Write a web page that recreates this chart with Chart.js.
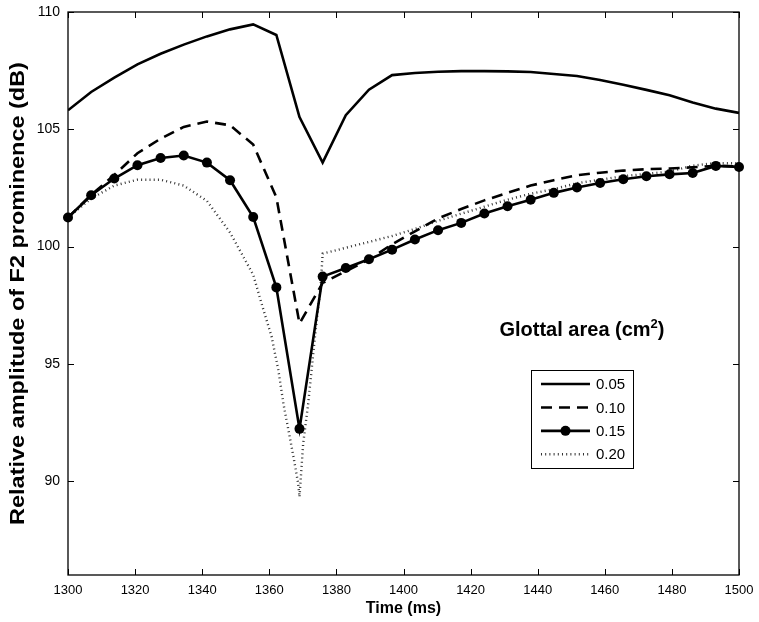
<!DOCTYPE html>
<html><head><meta charset="utf-8">
<script src="https://cdn.jsdelivr.net/npm/chart.js@4"></script>
<style>html,body{margin:0;padding:0;background:#fff}</style>
</head><body>
<canvas id="c" width="759" height="622"></canvas>
<script>
// ---- data ----
const times = [1300,1306.9,1313.8,1320.7,1327.6,1334.5,1341.4,1348.3,1355.2,1362.1,1369.0,1375.9,1382.8,1389.7,1396.6,1403.4,1410.3,1417.2,1424.1,1431.0,1437.9,1444.8,1451.7,1458.6,1465.5,1472.4,1479.3,1486.2,1493.1,1500];
const area005 = [105.81,106.59,107.20,107.77,108.22,108.61,108.96,109.26,109.47,109.02,105.52,103.58,105.60,106.69,107.31,107.40,107.45,107.48,107.48,107.47,107.44,107.36,107.27,107.10,106.90,106.68,106.45,106.14,105.88,105.70];
const area010 = [101.24,102.20,103.05,103.98,104.60,105.10,105.33,105.17,104.35,102.10,96.72,98.45,98.95,99.45,100.10,100.65,101.20,101.60,101.97,102.29,102.60,102.83,103.04,103.15,103.24,103.30,103.33,103.38,103.45,103.42];
const area015 = [101.24,102.19,102.90,103.47,103.78,103.88,103.58,102.83,101.26,98.26,92.23,98.72,99.09,99.46,99.87,100.30,100.70,101.01,101.41,101.72,102.00,102.29,102.52,102.71,102.87,103.00,103.08,103.14,103.44,103.39];
const dotTimes = [1300,1306.9,1313.8,1320.7,1327.6,1334.5,1341.4,1348.3,1355.2,1357.7,1360.7,1362.7,1364.2,1365.7,1367.2,1368.6,1369.0,1370.1,1371.6,1372.6,1373.6,1374.6,1375.3,1375.9,1382.8,1389.7,1396.6,1403.4,1410.3,1417.2,1424.1,1431.0,1437.9,1444.8,1451.7,1458.6,1465.5,1472.4,1479.3,1486.2,1493.1,1500];
const area020 = [101.24,102.05,102.60,102.85,102.85,102.60,101.95,100.60,98.80,97.57,96.15,94.73,93.31,92.18,91.04,89.90,89.33,91.61,93.31,94.73,96.15,97.43,98.30,99.70,99.95,100.20,100.45,100.75,101.10,101.40,101.70,102.00,102.25,102.45,102.70,102.85,103.00,103.10,103.20,103.45,103.56,103.55];
const xTicks = [1300,1320,1340,1360,1380,1400,1420,1440,1460,1480,1500];
const yTicks = [90,95,100,105,110];
const seriesLabels = ['0.05','0.10','0.15','0.20'];
const yTitle = 'Relative amplitude of F2 prominence (dB)';

const pts = (xs, ys) => xs.map((x, i) => ({x, y: ys[i]}));

const frame = {
  id: 'frame',
  afterDatasetsDraw(chart) {
    const {ctx, chartArea: a, scales: {x, y}} = chart;
    ctx.save();
    ctx.strokeStyle = '#000';
    ctx.lineWidth = 1.3;
    ctx.strokeRect(a.left, a.top, a.right - a.left, a.bottom - a.top);
    ctx.lineWidth = 1;
    ctx.beginPath();
    x.ticks.forEach(t => {
      const p = Math.round(x.getPixelForValue(t.value)) + 0.5;
      ctx.moveTo(p, a.bottom); ctx.lineTo(p, a.bottom - 6);
      ctx.moveTo(p, a.top); ctx.lineTo(p, a.top + 6);
    });
    y.ticks.forEach(t => {
      const p = Math.round(y.getPixelForValue(t.value)) + 0.5;
      ctx.moveTo(a.left, p); ctx.lineTo(a.left + 6, p);
      ctx.moveTo(a.right, p); ctx.lineTo(a.right - 6, p);
    });
    ctx.stroke();
    ctx.restore();
  }
};

const yTitlePlugin = {
  id: 'yTitlePlugin',
  afterDraw(chart) {
    const {ctx, chartArea: a} = chart;
    const h = a.bottom - a.top;
    ctx.save();
    ctx.font = 'bold 20px "Liberation Sans", Arial, sans-serif';
    const tw = ctx.measureText(yTitle).width;
    const sx = (0.822 * h) / tw;
    ctx.translate(18, (a.top + a.bottom) / 2);
    ctx.rotate(-Math.PI / 2);
    ctx.scale(sx, 1);
    ctx.fillStyle = '#000';
    ctx.textAlign = 'center';
    ctx.textBaseline = 'middle';
    ctx.fillText(yTitle, 0, 0);
    ctx.restore();
  }
};

const legendBox = {
  id: 'legendBox',
  afterDraw(chart) {
    const {ctx, chartArea: a} = chart;
    const w = a.right - a.left, h = a.bottom - a.top;
    ctx.save();
    // title
    const tcx = a.left + 0.766 * w, tby = a.top + 0.575 * h;
    ctx.fillStyle = '#000';
    ctx.textBaseline = 'alphabetic';
    const big = 'bold 20px "Liberation Sans", Arial, sans-serif';
    const small = 'bold 13px "Liberation Sans", Arial, sans-serif';
    ctx.font = big; const w1 = ctx.measureText('Glottal area (cm').width; const w3 = ctx.measureText(')').width;
    ctx.font = small; const w2 = ctx.measureText('2').width;
    let tx = tcx - (w1 + w2 + w3) / 2;
    ctx.font = big; ctx.textAlign = 'left';
    ctx.fillText('Glottal area (cm', tx, tby);
    ctx.font = small; ctx.fillText('2', tx + w1, tby - 8);
    ctx.font = big; ctx.fillText(')', tx + w1 + w2, tby);
    // box
    const bx = a.left + 0.69 * w, by = a.top + 0.636 * h, bw = 102, bh = 98;
    ctx.fillStyle = '#fff';
    ctx.fillRect(bx, by, bw, bh);
    ctx.strokeStyle = '#000'; ctx.lineWidth = 1;
    ctx.strokeRect(Math.round(bx) + 0.5, Math.round(by) + 0.5, bw, bh);
    ctx.font = '15px "Liberation Sans", Arial, sans-serif';
    ctx.textBaseline = 'middle';
    chart.data.datasets.forEach((ds, i) => {
      const ry = by + 14 + i * 23.4;
      ctx.strokeStyle = ds.borderColor;
      ctx.lineWidth = ds.borderWidth;
      ctx.setLineDash(ds.borderDash || []);
      ctx.beginPath(); ctx.moveTo(bx + 10, ry); ctx.lineTo(bx + 59, ry); ctx.stroke();
      ctx.setLineDash([]);
      if (ds.pointRadius > 0) {
        ctx.fillStyle = ds.pointBackgroundColor;
        ctx.beginPath(); ctx.arc(bx + 34.5, ry, ds.pointRadius, 0, Math.PI * 2); ctx.fill();
      }
      ctx.fillStyle = '#000';
      ctx.fillText(ds.label, bx + 65, ry + 1);
    });
    ctx.restore();
  }
};

new Chart(document.getElementById('c'), {
  type: 'line',
  data: {
    datasets: [
      {label: seriesLabels[0], data: pts(times, area005), borderColor: '#000', borderWidth: 2.6, pointRadius: 0, fill: false, tension: 0},
      {label: seriesLabels[1], data: pts(times, area010), borderColor: '#000', borderWidth: 2.6, borderDash: [11, 7], pointRadius: 0, fill: false, tension: 0},
      {label: seriesLabels[2], data: pts(times, area015), borderColor: '#000', borderWidth: 2.6, pointRadius: 5, pointBackgroundColor: '#000', pointBorderColor: '#000', pointBorderWidth: 0, fill: false, tension: 0, clip: false},
      {label: seriesLabels[3], data: pts(dotTimes, area020), borderColor: '#333', borderWidth: 2.4, borderDash: [1, 3.2], pointRadius: 0, fill: false, tension: 0}
    ]
  },
  options: {
    responsive: false,
    animation: false,
    layout: {padding: {left: 0, right: 20, top: 12, bottom: 0}},
    plugins: {legend: {display: false}, tooltip: {enabled: false}},
    scales: {
      x: {
        type: 'linear', min: 1300, max: 1500,
        afterBuildTicks: s => { s.ticks = xTicks.map(v => ({value: v})); },
        afterFit: s => { s.height = 47; s.paddingLeft = 0; s.paddingRight = 0; },
        grid: {display: false, drawTicks: false},
        border: {display: false},
        ticks: {color: '#000', font: {family: '"Liberation Sans", Arial, sans-serif', size: 13}, padding: 8, maxRotation: 0, autoSkip: false, callback: v => String(v)},
        title: {display: true, text: 'Time (ms)', color: '#000', font: {family: '"Liberation Sans", Arial, sans-serif', size: 16, weight: 'bold'}, padding: {top: 0, bottom: 4}}
      },
      y: {
        min: 86, max: 110,
        afterBuildTicks: s => { s.ticks = yTicks.map(v => ({value: v})); },
        afterFit: s => { s.width = 68; s.paddingTop = 0; s.paddingBottom = 0; },
        grid: {display: false, drawTicks: false},
        border: {display: false},
        ticks: {color: '#000', font: {family: '"Liberation Sans", Arial, sans-serif', size: 14}, padding: 8, callback: v => String(v)},
        title: {display: false}
      }
    }
  },
  plugins: [frame, yTitlePlugin, legendBox]
});
</script>
</body></html>
